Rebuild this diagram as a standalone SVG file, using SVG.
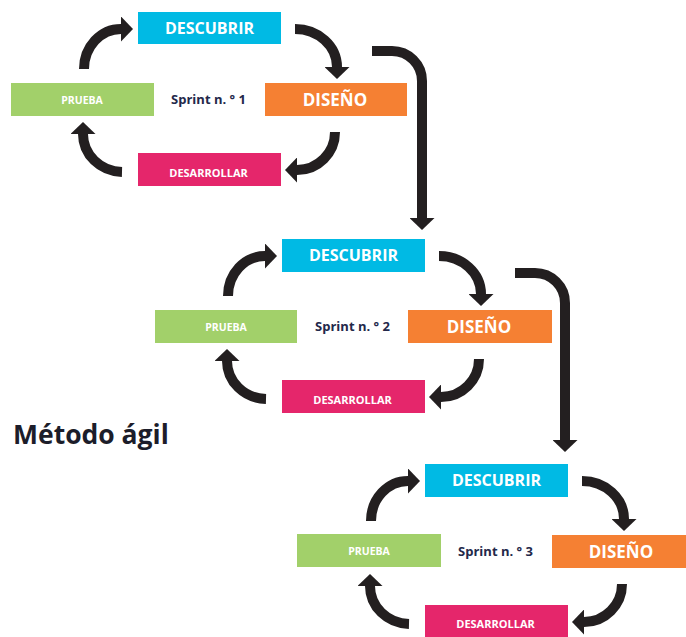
<svg xmlns="http://www.w3.org/2000/svg" width="686" height="637" viewBox="0 0 686 637">
  <style>
    .box { stroke: none; }
    .descubrir { fill: #00bae4; }
    .diseno { fill: #f58033; }
    .prueba { fill: #a2d06a; }
    .desarrollar { fill: #e5266b; }
    .lbl { font-family: "Open Sans", "Liberation Sans", sans-serif; font-weight: 700; fill: #ffffff; text-anchor: middle; }
    .big { font-size: 16px; }
    .xl { font-size: 17px; }
    .sm { font-size: 10.5px; }
    .md { font-size: 11px; }
    .sprint { font-family: "Open Sans", "Liberation Sans", sans-serif; font-weight: 700; font-size: 13px; fill: #23284a; text-anchor: middle; }
    .title { font-family: "Open Sans", "Liberation Sans", sans-serif; font-weight: 700; font-size: 26.5px; fill: #1c1d2a; }
    .arrow { fill: none; stroke: #231f20; stroke-width: 10; marker-end: url(#head); }
  </style>
  <defs>
    <marker id="head" viewBox="0 0 12 25" refX="0" refY="12.5" markerWidth="12" markerHeight="25" markerUnits="userSpaceOnUse" orient="auto">
      <path d="M0 0 L12 12.5 L0 25 Z" fill="#231f20"/>
    </marker>
  </defs>

  <rect width="686" height="637" fill="#ffffff"/>

  <!-- Sprint 1 -->
  <g id="sprint1">
    <g id="s1-descubrir"><rect class="box descubrir" x="138" y="12" width="143" height="32"/><text class="lbl big" x="209.5" y="33.5">DESCUBRIR</text></g>
    <g id="s1-diseno"><rect class="box diseno" x="265" y="83" width="142" height="33"/><text class="lbl xl" x="335" y="105.5">DISEÑO</text></g>
    <g id="s1-desarrollar"><rect class="box desarrollar" x="138" y="153" width="143" height="33"/><text class="lbl md" x="208.5" y="176.5">DESARROLLAR</text></g>
    <g id="s1-prueba"><rect class="box prueba" x="11" y="83" width="143" height="33"/><text class="lbl sm" x="82" y="104.3">PRUEBA</text></g>
    <text class="sprint" x="208.5" y="103.6">Sprint n. ° 1</text>
  </g>

  <!-- Sprint 2 -->
  <g id="sprint2" transform="translate(144 227)">
    <g id="s2-descubrir"><rect class="box descubrir" x="138" y="12" width="143" height="33"/><text class="lbl big" x="209.5" y="34">DESCUBRIR</text></g>
    <g id="s2-diseno"><rect class="box diseno" x="264" y="83" width="144" height="33"/><text class="lbl xl" x="335" y="105.5">DISEÑO</text></g>
    <g id="s2-desarrollar"><rect class="box desarrollar" x="138" y="153" width="143" height="33"/><text class="lbl md" x="208.5" y="176.5">DESARROLLAR</text></g>
    <g id="s2-prueba"><rect class="box prueba" x="11" y="83" width="142" height="33"/><text class="lbl sm" x="82" y="104.3">PRUEBA</text></g>
    <text class="sprint" x="208.5" y="103.6">Sprint n. ° 2</text>
  </g>

  <!-- Sprint 3 -->
  <g id="sprint3" transform="translate(287 452)">
    <g id="s3-descubrir"><rect class="box descubrir" x="138" y="12" width="143" height="33"/><text class="lbl big" x="209.5" y="34">DESCUBRIR</text></g>
    <g id="s3-diseno"><rect class="box diseno" x="265" y="83" width="142" height="33"/><text class="lbl xl" x="334" y="105.5">DISEÑO</text></g>
    <g id="s3-desarrollar"><rect class="box desarrollar" x="138" y="153" width="143" height="33"/><text class="lbl md" x="208.5" y="175.5">DESARROLLAR</text></g>
    <g id="s3-prueba"><rect class="box prueba" x="10" y="82" width="144" height="33"/><text class="lbl sm" x="82" y="103.3">PRUEBA</text></g>
    <text class="sprint" x="208.5" y="103.6">Sprint n. ° 3</text>
  </g>

  <text class="title" x="13" y="444">Método ágil</text>

  <!-- Connectors -->
  <g id="connectors">
    <g id="cycle1">
      <path class="arrow" d="M84 69 A37 40 0 0 1 121 29"/>
      <path class="arrow" d="M295 29 A42 38 0 0 1 337 67"/>
      <path class="arrow" d="M335 132 A38 38 0 0 1 297 170"/>
      <path class="arrow" d="M122 172 A40 38 0 0 1 83 134"/>
    </g>
    <g id="cycle2" transform="translate(144 227)">
      <path class="arrow" d="M84 69 A37 40 0 0 1 121 29"/>
      <path class="arrow" d="M295 29 A42 38 0 0 1 337 67"/>
      <path class="arrow" d="M335 132 A38 38 0 0 1 297 170"/>
      <path class="arrow" d="M122 172 A40 38 0 0 1 83 134"/>
    </g>
    <g id="cycle3" transform="translate(287 452)">
      <path class="arrow" d="M84 69 A37 40 0 0 1 121 29"/>
      <path class="arrow" d="M295 29 A42 38 0 0 1 337 67"/>
      <path class="arrow" d="M335 132 A38 38 0 0 1 297 170"/>
      <path class="arrow" d="M122 172 A40 38 0 0 1 83 134"/>
    </g>
    <path id="sprint1-to-sprint2" class="arrow" d="M372 51 L392 51 A30 30 0 0 1 422 81 L422 218"/>
    <path id="sprint2-to-sprint3" class="arrow" d="M515 273 L535 273 A30 30 0 0 1 565 303 L565 440"/>
  </g>
</svg>
